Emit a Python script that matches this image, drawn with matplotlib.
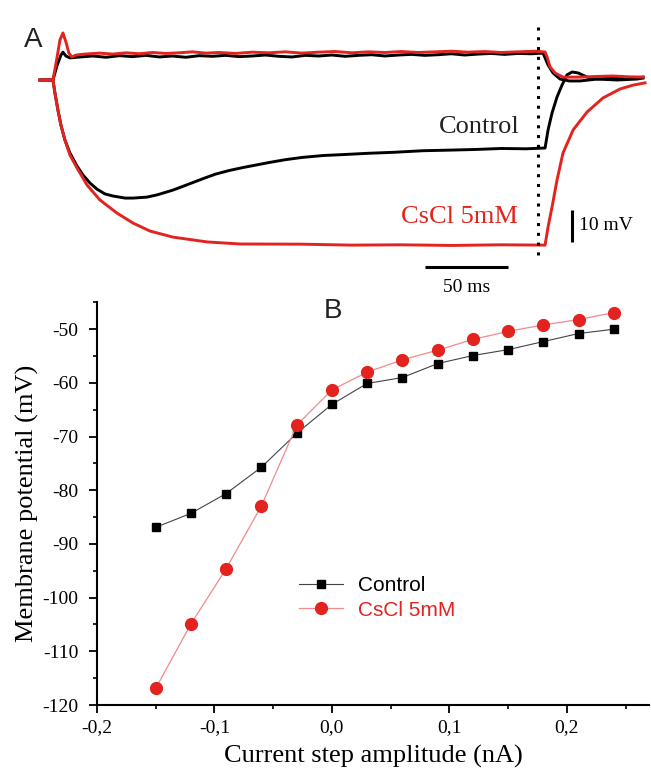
import numpy as np
import matplotlib
matplotlib.use("Agg")
import matplotlib.pyplot as plt

SERIF = "Liberation Serif"
SANS = "Liberation Sans"
RED = "#e3231f"

# ---- panel A: voltage traces (ms, mV) ----
t_ctl_dep = [-7.8, 0, 2.4, 4.8, 6.0, 7.8, 10.2, 16.3, 24, 32,
             40, 48, 56, 64, 72, 80, 88, 96, 104, 112,
             120, 128, 136, 144, 152, 160, 168, 176, 184, 192,
             200, 208, 216, 224, 232, 240, 248, 256, 264, 272,
             280, 288, 295.2, 298.2, 301.2, 305.4, 311, 317.5, 327.7, 337.3,
             347.6, 355.4]
v_ctl_dep = [-64, -64, -59.6, -56.2, -55.3, -56.5, -57.1, -56.8, -56.5, -56.9,
             -56.4, -56.7, -56.3, -56.8, -56.5, -56.9, -56.4, -56.6, -56.3, -56.7,
             -56.5, -56.2, -56.6, -56.8, -56.3, -56.5, -56.2, -56.6, -56.3, -56.1,
             -56.5, -56.2, -56.0, -56.3, -56.1, -55.8, -56.2, -55.9, -55.7, -56.0,
             -55.7, -55.8, -55.6, -59.3, -61.8, -63.7, -64.3, -64.3, -63.7, -63.4,
             -63.4, -63.1]

t_cs_dep = [-7.8, 0, 2.4, 4.2, 6.0, 7.8, 9.6, 11.4, 13.9, 19.3,
            28, 36, 44, 52, 60, 68, 76, 84, 92, 100,
            110, 120, 130, 140, 150, 160, 170, 180, 190, 200,
            210, 220, 230, 240, 250, 260, 270, 280, 290, 296.4,
            297.6, 299.4, 302.4, 307.2, 317.5, 327, 337.3, 347, 355.4]
v_cs_dep = [-64, -64, -57.1, -51.5, -49.3, -52.1, -55.6, -56.8, -56.2, -55.9,
            -55.6, -55.9, -55.5, -55.8, -55.4, -55.7, -55.5, -55.2, -55.6, -55.4,
            -55.7, -55.3, -55.5, -55.2, -55.6, -55.3, -55.1, -55.5, -55.2, -55.4,
            -55.1, -55.4, -55.2, -55.0, -55.3, -55.1, -55.4, -55.2, -55.0, -55.25,
            -56.8, -59.9, -61.8, -63.1, -63.1, -62.9, -62.75, -63.0, -63.1]

t_ctl_hyp = [-7.8, 0, 1.2, 3.0, 4.8, 7.2, 10.2, 14.5, 18.1, 22.3,
             26.5, 31.3, 36.1, 43.4, 48.2, 56.6, 62.7, 72.3, 82.5, 90,
             98, 106, 114, 122, 130, 140, 150, 162.7, 175, 190,
             205, 222.9, 240, 255, 270, 285, 296.4, 298.2, 300.6, 303.6,
             306.6, 309.6, 312.7, 316.3, 321.7, 327.7, 339.8, 351.8, 355.4]
v_ctl_hyp = [-64, -64, -68.1, -73.4, -78.1, -82.75, -86.8, -90.9, -93.7, -96.2,
             -98.1, -99.6, -100.25, -100.9, -100.9, -100.6, -99.9, -98.4, -96.4, -94.9,
             -93.4, -92.3, -91.4, -90.6, -89.8, -88.9, -88.2, -87.6, -87.3, -86.9,
             -86.6, -86.1, -85.9, -85.7, -85.4, -85.5, -85.25, -79.6, -74.3, -69.3,
             -65.6, -62.4, -61.5, -61.8, -63.1, -63.7, -64.0, -63.7, -63.4]

t_cs_hyp = [-7.8, 0, 1.2, 3.0, 4.8, 7.2, 10.2, 14.5, 20.5, 28.3,
            38.6, 48.2, 58.4, 72.3, 92.8, 112.7, 148.8, 180, 209.0, 240,
            270, 296.4, 298.2, 300.6, 303.6, 307.2, 313.3, 321.7, 331.3, 341.6,
            349.4, 356.6]
v_cs_hyp = [-64, -64, -68.1, -73.4, -78.1, -82.75, -87.4, -91.5, -96.8, -101.5,
            -105.6, -108.7, -111.2, -113.1, -114.6, -115.25, -115.3, -115.6, -115.5, -115.7,
            -115.5, -115.6, -109.9, -103.7, -95.25, -86.8, -79.6, -74.0, -69.6, -66.8,
            -65.6, -64.9]

# ---- panel B: I-V relation ----
current = [-0.15, -0.12, -0.09, -0.06, -0.03, 0.0, 0.03,
           0.06, 0.09, 0.12, 0.15, 0.18, 0.21, 0.24]
v_control = [-86.9, -84.3, -80.6, -75.7, -69.4, -64.0, -60.1,
             -59.0, -56.4, -54.9, -53.8, -52.3, -50.8, -50.0]
v_cscl = [-116.9, -104.9, -94.6, -82.9, -67.9, -61.3, -58.0,
          -55.7, -53.9, -51.9, -50.4, -49.2, -48.2, -46.9]
xticks = [-0.2, -0.1, 0.0, 0.1, 0.2]
xticklabels = ["-0,2", "-0,1", "0,0", "0,1", "0,2"]
yticks = [-120, -110, -100, -90, -80, -70, -60, -50]

W, H = 651, 776
fig = plt.figure(figsize=(W / 100, H / 100), dpi=100)

# panel A
axA = fig.add_axes([0, 1 - 300 / H, 1, 300 / H])
axA.set_xlim(-31.9, 360.2)
axA.set_ylim(-132.75, -39)
axA.axis("off")
axA.plot(t_ctl_dep, v_ctl_dep, color="black", lw=2.1)
axA.plot(t_ctl_hyp, v_ctl_hyp, color="black", lw=2.1)
axA.plot(t_cs_dep, v_cs_dep, color=RED, lw=2.1)
axA.plot(t_cs_hyp, v_cs_hyp, color=RED, lw=2.1)

# step end marker and scale bars
axA.plot([292.2, 292.2], [-47.4, -119.3], color="black", lw=2.2,
         linestyle=(0, (1, 2.2)))
axA.plot([224.1, 274.1], [-122.4, -122.4], color="black", lw=2.2,
         solid_capstyle="butt")
axA.plot([312.7, 312.7], [-114.6, -104.6], color="black", lw=2.2,
         solid_capstyle="butt")
axA.text(249.4, -128.7, "50 ms", family=SERIF, fontsize=14,
         ha="center", va="center")
axA.text(316.9, -109.6, "10 mV", family=SERIF, fontsize=14,
         ha="left", va="center")
axA.text(281.3, -78.7, "Control", family=SERIF, fontsize=19,
         ha="right", va="center", color="#222222")
axA.text(280.1, -106.8, "CsCl 5mM", family=SERIF, fontsize=19,
         ha="right", va="center", color=RED)

fig.text(33 / W, 1 - 40 / H, "A", family=SANS, fontsize=20,
         ha="center", va="center", color="#222222")
fig.text(333 / W, 1 - 311 / H, "B", family=SANS, fontsize=20,
         ha="center", va="center", color="#222222")

# panel B
axB = fig.add_axes([97 / W, 1 - 705 / H, (649 - 97) / W, (705 - 302.4) / H])
axB.plot(current, v_control, color="#444444", lw=0.8, marker="s",
         markersize=6.2, markerfacecolor="black", markeredgecolor="black",
         label="Control")
axB.plot(current, v_cscl, color="#f08a8a", lw=0.9, marker="o",
         markersize=8.5, markerfacecolor=RED, markeredgecolor=RED,
         label="CsCl 5mM")
axB.set_xlim(-0.2, 0.27)
axB.set_ylim(-120, -45)
axB.set_xticks(xticks)
axB.set_xticklabels(xticklabels)
axB.set_xticks([-0.15, -0.05, 0.05, 0.15, 0.25], minor=True)
axB.set_yticks(yticks)
axB.set_yticklabels([str(v) for v in yticks])
axB.set_yticks(np.arange(-115, -44, 10), minor=True)
for s in ["top", "right"]:
    axB.spines[s].set_visible(False)
for s in ["left", "bottom"]:
    axB.spines[s].set_linewidth(1.5)
axB.tick_params(which="major", direction="out", length=5.5, width=1.3,
                pad=5, labelsize=14)
axB.tick_params(axis="y", which="major", pad=8)
axB.tick_params(which="minor", direction="out", length=3, width=1.2)
for lab in axB.get_xticklabels() + axB.get_yticklabels():
    lab.set_family(SERIF)
axB.set_xlabel("Current step amplitude (nA)", family=SERIF, fontsize=19,
               labelpad=6)
axB.set_ylabel("Membrane potential (mV)", family=SERIF, fontsize=19,
               labelpad=2)

leg = axB.legend(loc="center left", bbox_to_anchor=(299 / W, 1 - 598 / H),
                 bbox_transform=fig.transFigure, frameon=False,
                 prop={"family": SANS, "size": 15}, handlelength=2.1,
                 handletextpad=0.75, labelspacing=0.25, borderpad=0,
                 borderaxespad=0)
for txt, c in zip(leg.get_texts(), ["black", RED]):
    txt.set_color(c)

fig.savefig("out.png", dpi=100)
